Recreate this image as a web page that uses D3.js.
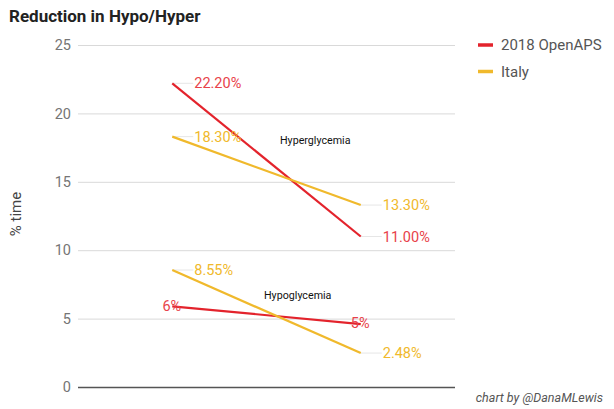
<!DOCTYPE html>
<html>
<head>
<meta charset="utf-8">
<script src="https://cdn.jsdelivr.net/npm/d3@7"></script>
<style>
  body { margin: 0; background: #fff; }
  svg { display: block; font-family: Roboto, "Liberation Sans", sans-serif; }
</style>
</head>
<body>
<svg id="chart" width="614" height="409"></svg>
<script>
const periods = ["before", "after"];
const yTicks = [0, 5, 10, 15, 20, 25];

// one line per group/series
const openapsHyper = [22.2, 11.0];
const italyHyper = [18.3, 13.3];
const openapsHypo = [5.9, 4.6];
const italyHypo = [8.55, 2.48];

const openapsHyperLabels = ["22.20%", "11.00%"];
const italyHyperLabels = ["18.30%", "13.30%"];
const openapsHypoLabels = ["6%", "5%"];
const italyHypoLabels = ["8.55%", "2.48%"];

const legendNames = ["2018 OpenAPS", "Italy"];

const colors = { red: "#e3232c", yellow: "#f0b92c" };
const labelColors = { red: "#e8424a", yellow: "#f0b92c" };

const svg = d3.select("#chart");
const plot = { left: 78, right: 455, top: 45, bottom: 387 };

const x = d3.scalePoint().domain(periods).range([plot.left, plot.right]).padding(0.5);
const y = d3.scaleLinear().domain([0, 25]).range([plot.bottom, plot.top]);

// title
svg.append("text")
  .attr("x", 9).attr("y", 22)
  .attr("font-size", 17).attr("font-weight", "bold")
  .attr("fill", "#222")
  .text("Reduction in Hypo/Hyper");

// gridlines + ticks
const yAxis = svg.append("g")
  .attr("transform", `translate(${plot.left},0)`)
  .call(d3.axisLeft(y).tickValues(yTicks).tickSize(-(plot.right - plot.left)).tickPadding(7));
yAxis.select(".domain").remove();
yAxis.selectAll(".tick line")
  .attr("stroke", d => d === 0 ? "#555" : "#d9d9d9")
  .attr("stroke-width", d => d === 0 ? 1.5 : 1);
yAxis.selectAll(".tick text")
  .attr("fill", "#757575").attr("font-size", 14.5)
  .attr("font-family", "Roboto, sans-serif");

svg.append("text")
  .attr("transform", "translate(21,214) rotate(-90)")
  .attr("text-anchor", "middle")
  .attr("font-size", 15).attr("fill", "#444")
  .text("% time");

const series = [
  { values: openapsHyper, labels: openapsHyperLabels, color: "red", side: ["right", "right"] },
  { values: italyHyper, labels: italyHyperLabels, color: "yellow", side: ["right", "right"] },
  { values: openapsHypo, labels: openapsHypoLabels, color: "red", side: ["left", "over"] },
  { values: italyHypo, labels: italyHypoLabels, color: "yellow", side: ["right", "right"] }
];

const line = d3.line().x((d, i) => x(periods[i])).y(d => y(d));

// leader lines
series.forEach(s => {
  s.values.forEach((v, i) => {
    if (s.side[i] !== "right") return;
    const px = x(periods[i]), py = y(v);
    svg.append("line")
      .attr("x1", px).attr("x2", px + 21)
      .attr("y1", py).attr("y2", py)
      .attr("stroke", "#e6e6e6").attr("stroke-width", 1);
  });
});

series.forEach(s => {
  svg.append("path")
    .datum(s.values)
    .attr("d", line)
    .attr("fill", "none")
    .attr("stroke", colors[s.color])
    .attr("stroke-width", 2.2);
});

// data labels
series.forEach(s => {
  s.values.forEach((v, i) => {
    const px = x(periods[i]), py = y(v);
    const side = s.side[i];
    const t = svg.append("text")
      .attr("font-size", 14.5).attr("fill", labelColors[s.color])
      .text(s.labels[i]);
    if (side === "right") {
      t.attr("x", px + 22).attr("y", py).attr("dy", "0.35em");
    } else if (side === "left") {
      t.attr("x", px + 9).attr("y", py).attr("dy", "0.3em").attr("text-anchor", "end");
    } else {
      t.attr("x", px - 10).attr("y", py).attr("dy", "0.3em");
    }
  });
});

// group annotations
svg.append("text")
  .attr("x", 280).attr("y", 144)
  .attr("font-size", 10.7).attr("fill", "#111")
  .text("Hyperglycemia");
svg.append("text")
  .attr("x", 264).attr("y", 299)
  .attr("font-size", 10.7).attr("fill", "#111")
  .text("Hypoglycemia");

// legend
const legend = svg.append("g").attr("transform", "translate(478,45)");
legendNames.forEach((name, i) => {
  const g = legend.append("g").attr("transform", `translate(0,${i * 26.5})`);
  g.append("line")
    .attr("x1", 0).attr("x2", 15)
    .attr("stroke", i === 0 ? colors.red : colors.yellow)
    .attr("stroke-width", 3.5);
  g.append("text")
    .attr("x", 23).attr("dy", "0.35em")
    .attr("font-size", 15).attr("fill", "#555")
    .text(name);
});

// credit
svg.append("text")
  .attr("x", 603).attr("y", 402)
  .attr("text-anchor", "end")
  .attr("font-size", 12.5).attr("font-style", "italic")
  .attr("fill", "#555")
  .text("chart by @DanaMLewis");
</script>
</body>
</html>
